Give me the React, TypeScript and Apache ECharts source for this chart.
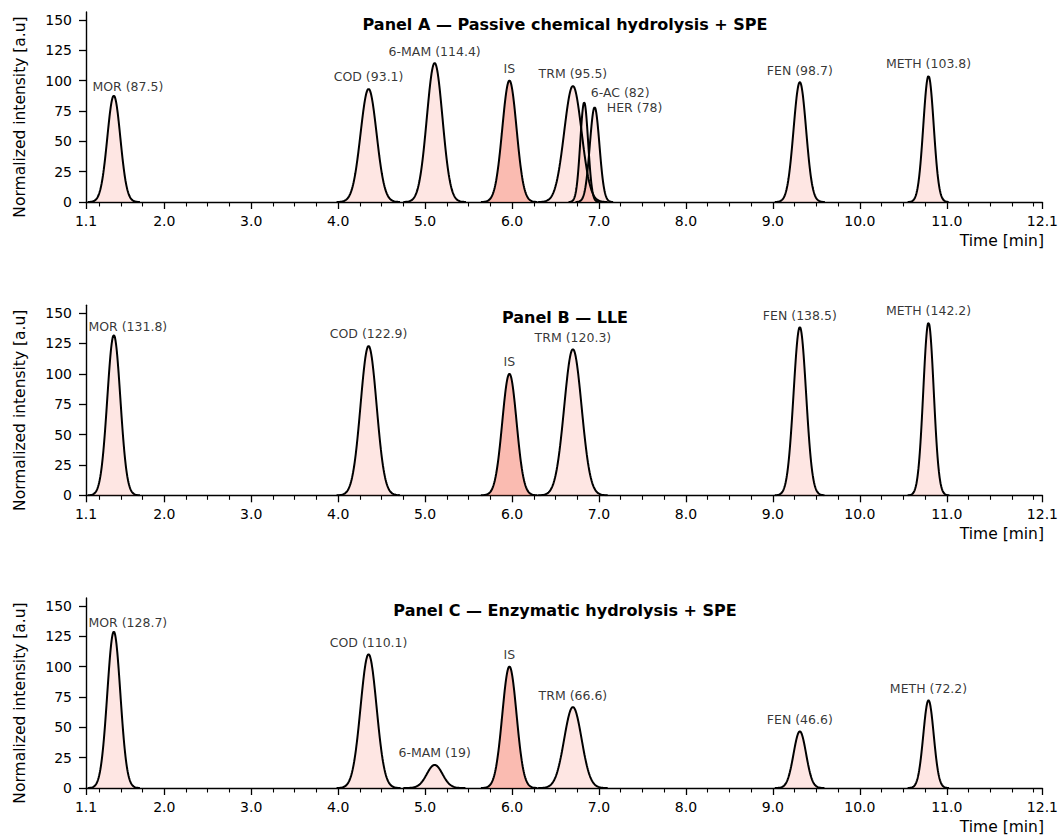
import React, { useEffect, useRef } from "react";
import * as echarts from "echarts";

// ---- Data ----
const compounds = ["MOR", "COD", "6-MAM", "IS", "TRM", "6-AC", "HER", "FEN", "METH"];
const retentionTimes = [1.42, 4.35, 5.11, 5.97, 6.7, 6.83, 6.95, 9.31, 10.79];
const peakSigmas = [0.075, 0.092, 0.09, 0.082, 0.1, 0.045, 0.055, 0.072, 0.06];

const panelTitles = [
  "Panel A \u2014 Passive chemical hydrolysis + SPE",
  "Panel B \u2014 LLE",
  "Panel C \u2014 Enzymatic hydrolysis + SPE",
];
const panelAHeights = [87.5, 93.1, 114.4, 100, 95.5, 82, 78, 98.7, 103.8];
const panelBHeights = [131.8, 122.9, null, 100, 120.3, null, null, 138.5, 142.2];
const panelCHeights = [128.7, 110.1, 19, 100, 66.6, null, null, 46.6, 72.2];
const panelHeights = [panelAHeights, panelBHeights, panelCHeights];

const xTickValues = [1.1, 2, 3, 4, 5, 6, 7, 8, 9, 10, 11, 12.1];
const yTickValues = [0, 25, 50, 75, 100, 125, 150];
const xMin = 1.1;
const xMax = 12.1;
const yMax = 156.4;

// ---- Styling ----
const FONT = "DejaVu Sans";
const gridTops = [12, 305.3, 598];
const gridHeight = 190;
const gridLeft = 86;
const gridRight = 16.5;
const lightFill = "rgba(250,128,114,0.28)";
const isFill = "rgba(245,120,100,0.72)";
const labelOffsets: Record<string, [number, number]> = {
  MOR: [14, 3],
  "6-AC": [36, 2.5],
  HER: [40, 12.5],
};

const minorTicks: number[] = [];
for (let k = 5; k <= 48; k++) {
  if (k % 4 !== 0) minorTicks.push(k * 0.25);
}
minorTicks.push(12);

function peakCurve(center: number, sigma: number, height: number) {
  const pts: [number, number][] = [];
  const n = 120;
  for (let i = 0; i <= n; i++) {
    const x = center - 4 * sigma + (8 * sigma * i) / n;
    const y = height * Math.exp(-((x - center) ** 2) / (2 * sigma * sigma));
    pts.push([x, y]);
  }
  return pts;
}

function buildOption() {
  const grid: any[] = [];
  const xAxis: any[] = [];
  const yAxis: any[] = [];
  const series: any[] = [];
  const graphic: any[] = [];

  panelHeights.forEach((heights, p) => {
    const top = gridTops[p];
    grid.push({ left: gridLeft, right: gridRight, top, height: gridHeight });
    xAxis.push({
      type: "value",
      gridIndex: p,
      position: "bottom",
      min: xMin,
      max: xMax,
      axisLine: { show: true, onZero: false, lineStyle: { color: "#000", width: 1.4 } },
      axisTick: { show: true, customValues: xTickValues, length: 7, lineStyle: { color: "#000", width: 1.3 } },
      axisLabel: {
        show: true,
        customValues: xTickValues,
        formatter: (v: number) => v.toFixed(1),
        fontFamily: FONT,
        fontSize: 14,
        color: "#000",
        margin: 12,
      },
      splitLine: { show: false },
    });
    xAxis.push({
      type: "value",
      gridIndex: p,
      position: "bottom",
      min: xMin,
      max: xMax,
      axisLine: { show: true, onZero: false, lineStyle: { color: "rgba(0,0,0,0)", width: 0 } },
      axisTick: { show: true, customValues: minorTicks, length: 4.5, lineStyle: { color: "#000", width: 1.1 } },
      axisLabel: { show: false },
      splitLine: { show: false },
    });
    yAxis.push({
      type: "value",
      gridIndex: p,
      min: 0,
      max: yMax,
      axisLine: { show: true, lineStyle: { color: "#000", width: 1.4 } },
      axisTick: { show: true, customValues: yTickValues, length: 7, lineStyle: { color: "#000", width: 1.3 } },
      axisLabel: {
        show: true,
        customValues: yTickValues,
        fontFamily: FONT,
        fontSize: 14,
        color: "#000",
        margin: 14,
      },
      splitLine: { show: false },
    });

    const labelData: any[] = [];
    compounds.forEach((name, i) => {
      const h = heights[i];
      if (h === null || h === undefined) return;
      series.push({
        type: "line",
        name: `${panelTitles[p]} ${name}`,
        xAxisIndex: p * 2,
        yAxisIndex: p,
        data: peakCurve(retentionTimes[i], peakSigmas[i], h),
        showSymbol: false,
        symbol: "none",
        smooth: false,
        lineStyle: { color: "#000", width: 2 },
        areaStyle: { color: name === "IS" ? isFill : lightFill, origin: "start" },
        emphasis: { disabled: true },
        silent: true,
        z: 2,
      });
      const text = name === "IS" ? "IS" : `${name} (${h})`;
      const off = labelOffsets[name] || [0, 0];
      labelData.push({
        value: [retentionTimes[i], h],
        label: { formatter: text, offset: off },
      });
    });
    series.push({
      type: "scatter",
      xAxisIndex: p * 2,
      yAxisIndex: p,
      symbolSize: 1,
      itemStyle: { color: "rgba(0,0,0,0)" },
      silent: true,
      z: 5,
      label: {
        show: true,
        position: "top",
        distance: 5,
        fontFamily: FONT,
        fontSize: 12.5,
        color: "#000",
      },
      data: labelData,
    });

    const axisY = top + gridHeight;
    graphic.push({
      type: "text",
      x: 565,
      y: top + 12,
      style: {
        text: panelTitles[p],
        font: `bold 16px "${FONT}"`,
        fill: "#000",
        textAlign: "center",
        textVerticalAlign: "middle",
      },
    });
    graphic.push({
      type: "text",
      x: 20,
      y: top + 105,
      rotation: Math.PI / 2,
      style: {
        text: "Normalized intensity [a.u]",
        font: `15.5px "${FONT}"`,
        fill: "#000",
        textAlign: "center",
        textVerticalAlign: "middle",
      },
    });
    graphic.push({
      type: "text",
      x: 1044,
      y: axisY + 39,
      style: {
        text: "Time [min]",
        font: `15.5px "${FONT}"`,
        fill: "#000",
        textAlign: "right",
        textVerticalAlign: "middle",
      },
    });
  });

  return {
    animation: false,
    backgroundColor: "#fff",
    grid,
    xAxis,
    yAxis,
    series,
    graphic,
  };
}

export default function App() {
  const ref = useRef<HTMLDivElement>(null);
  useEffect(() => {
    if (!ref.current) return;
    const chart = echarts.init(ref.current, undefined, { renderer: "svg" });
    chart.setOption(buildOption() as any);
    return () => chart.dispose();
  }, []);
  return (
    <div
      ref={ref}
      style={{ position: "absolute", left: 0, top: 0, width: 1061, height: 835, background: "#fff" }}
    />
  );
}
